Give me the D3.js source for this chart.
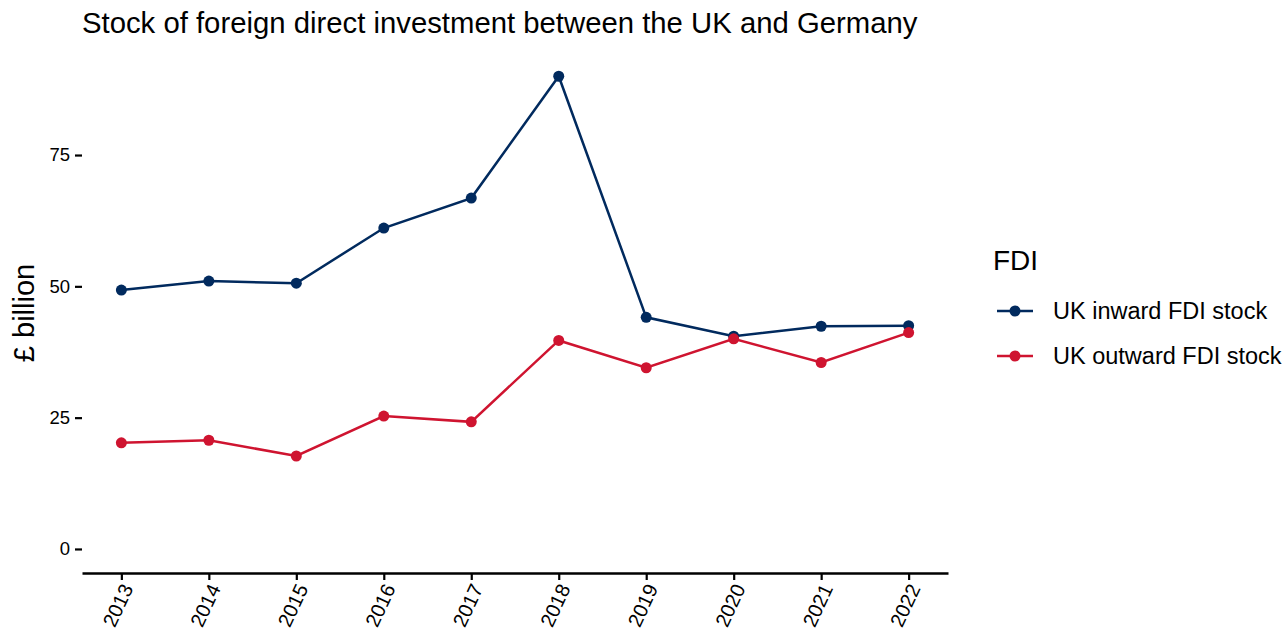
<!DOCTYPE html>
<html>
<head>
<meta charset="utf-8">
<script src="https://cdn.jsdelivr.net/npm/d3@7"></script>
<style>
  body { margin: 0; background: #fff; }
  text { font-family: "Liberation Sans", Arial, sans-serif; fill: #000; }
</style>
</head>
<body>
<svg id="chart" width="1285" height="632"></svg>
<script>
// data
const years = [2013, 2014, 2015, 2016, 2017, 2018, 2019, 2020, 2021, 2022];
const inward = [49.3, 51.0, 50.6, 61.1, 66.8, 90.0, 44.1, 40.5, 42.4, 42.5];
const outward = [20.2, 20.7, 17.7, 25.3, 24.2, 39.7, 34.5, 40.0, 35.5, 41.2];
const seriesNames = ["UK inward FDI stock", "UK outward FDI stock"];
const seriesColors = ["#012a5e", "#cf1430"];
const yTicks = [0, 25, 50, 75];

const svg = d3.select("#chart");

// continuous scales with ggplot-like 5% expansion
const x = d3.scaleLinear().domain([2012.55, 2022.45]).range([82, 948]);
const y = d3.scaleLinear().domain([-4.5, 94.5]).range([572.6, 52.6]);

// title
svg.append("text")
  .attr("x", 82).attr("y", 33)
  .style("font-size", "29.3px")
  .text("Stock of foreign direct investment between the UK and Germany");

// y axis: ticks and labels, no line
const yAxis = svg.append("g").attr("transform", "translate(82,0)")
  .call(d3.axisLeft(y).tickValues(yTicks).tickSize(7).tickPadding(5));
yAxis.select(".domain").remove();
yAxis.selectAll("line").attr("stroke", "#000").attr("stroke-width", 2.2);
yAxis.selectAll("text").style("font-size", "18.5px").style("font-family", "Liberation Sans, Arial, sans-serif");

svg.append("text")
  .attr("transform", "translate(34,313) rotate(-90)")
  .attr("text-anchor", "middle")
  .style("font-size", "29px")
  .text("£ billion");

// x axis
const xAxis = svg.append("g").attr("transform", "translate(0,573)")
  .call(d3.axisBottom(x).tickValues(years).tickFormat(d3.format("d")).tickSize(7).tickSizeOuter(0));
xAxis.select(".domain").attr("stroke", "#000").attr("stroke-width", 2.4);
xAxis.selectAll("line").attr("stroke", "#000").attr("stroke-width", 2.2);
xAxis.selectAll("text")
  .style("font-size", "20px")
  .style("font-family", "Liberation Sans, Arial, sans-serif")
  .attr("text-anchor", "end")
  .attr("dy", null)
  .attr("y", 0)
  .attr("transform", "translate(7,13) rotate(-65)")
  .attr("dominant-baseline", "middle");

// lines and points
const allSeries = [inward, outward];
const line = d3.line().x((d, i) => x(years[i])).y(d => y(d));
allSeries.forEach((vals, k) => {
  svg.append("path")
    .attr("d", line(vals))
    .attr("fill", "none")
    .attr("stroke", seriesColors[k])
    .attr("stroke-width", 2.5);
  svg.append("g").selectAll("circle").data(vals).join("circle")
    .attr("cx", (d, i) => x(years[i]))
    .attr("cy", d => y(d))
    .attr("r", 5.5)
    .attr("fill", seriesColors[k]);
});

// legend
const legend = svg.append("g").attr("transform", "translate(993,0)");
legend.append("text").attr("x", 0).attr("y", 270).style("font-size", "28px").text("FDI");
seriesNames.forEach((name, k) => {
  const ly = 311 + k * 45;
  legend.append("line").attr("x1", 4).attr("x2", 40).attr("y1", ly).attr("y2", ly)
    .attr("stroke", seriesColors[k]).attr("stroke-width", 2.5);
  legend.append("circle").attr("cx", 22).attr("cy", ly).attr("r", 5.5).attr("fill", seriesColors[k]);
  legend.append("text").attr("x", 60).attr("y", ly + 8).style("font-size", "23.5px").text(name);
});
</script>
</body>
</html>
